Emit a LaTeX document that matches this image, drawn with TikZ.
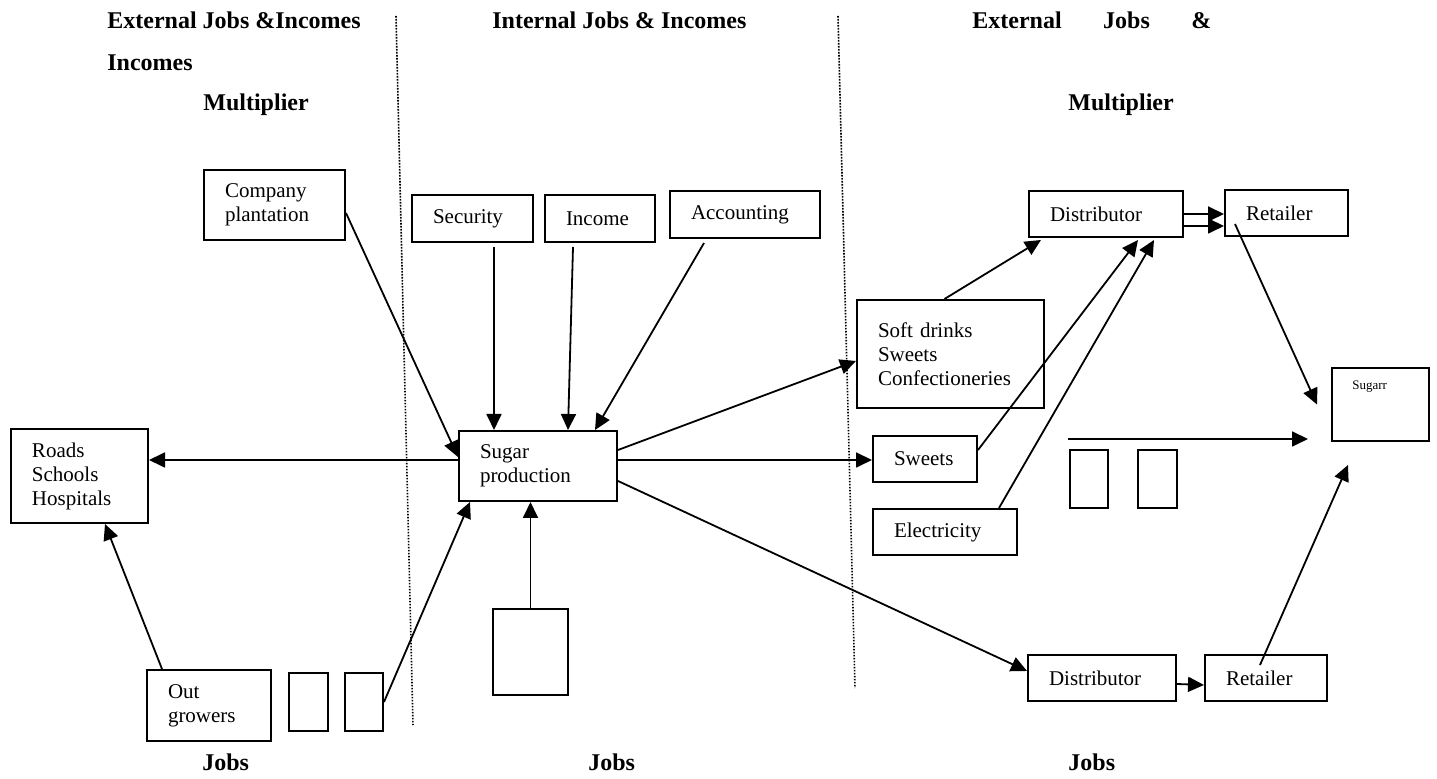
\documentclass[tikz,border=0pt]{standalone}
\usepackage{fontspec}
\setmainfont{Liberation Serif}
\usetikzlibrary{arrows.meta}

\tikzset{
  box/.style 2 args={draw, line width=1pt, anchor=north west, align=left,
    inner xsep=10.5pt, inner ysep=0pt, text width=#1, minimum height=#2,
    font=\fontsize{10.5}{12}\selectfont},
  blank/.style 2 args={draw, line width=1pt, anchor=north west, inner sep=0pt,
    minimum width=#1, minimum height=#2},
  hdr/.style={anchor=base west, inner sep=0pt,
    font=\bfseries\fontsize{12}{14}\selectfont},
  flow/.style={-{Triangle[length=8pt,width=7.5pt]}, line width=0.9pt},
  sep/.style={line width=0.8pt, dash pattern=on 0.8pt off 0.7pt}
}

\begin{document}
\begin{tikzpicture}[x=0.5pt, y=-0.5pt]

  \useasboundingbox (0,0) rectangle (1437,779);

  %% column separators
  \draw[sep] (396,16) -- (413,725);
  \draw[sep] (838,16) -- (855,688);

  %% headings
  \node[hdr] (hl1) at (107,29) {External Jobs \&Incomes};
  \node[hdr] (hl2) at (107,71) {Incomes};
  \node[hdr] (hl3) at (203,111) {Multiplier};
  \node[hdr] (hm1) at (492,29) {Internal Jobs \& Incomes};
  \node[hdr] (hr1) at (972,29) {\makebox[119.5pt][l]{External\hfill Jobs\hfill\&}};
  \node[hdr] (hr3) at (1068,111) {Multiplier};
  \node[hdr] (jl) at (202,771) {Jobs};
  \node[hdr] (jm) at (588,771) {Jobs};
  \node[hdr] (jr) at (1068,771) {Jobs};

  %% left column
  \node[box={49.5pt}{35pt}] (plant) at (203,169) {Company\\plantation};
  \node[box={47.5pt}{47pt}] (roads) at (10,428) {Roads\\Schools\\Hospitals};
  \node[box={41pt}{35.5pt}] (grow) at (146,669) {Out\\growers};
  \node[blank={19.5pt}{29pt}] (gs1) at (288,672) {};
  \node[blank={19pt}{29pt}] (gs2) at (344,672) {};

  %% middle column
  \node[box={39.5pt}{23.5pt}] (secur) at (411,194) {Security};
  \node[box={34pt}{23.5pt}] (income) at (544,194) {Income};
  \node[box={54pt}{23.5pt}] (account) at (669,190) {Accounting};
  \node[box={58pt}{35pt}] (sugar) at (458,430) {Sugar\\production};
  \node[blank={37.5pt}{43pt}] (below) at (492,608) {};

  %% right column
  \node[box={72.5pt}{54pt}] (soft) at (856,299) {Soft drinks\\Sweets\\Confectioneries};
  \node[box={31pt}{23pt}] (sweets) at (872,435) {Sweets};
  \node[box={51pt}{23pt}] (elec) at (872,508) {Electricity};
  \node[blank={19pt}{29pt}] (rs1) at (1069,449) {};
  \node[blank={19.5pt}{29pt}] (rs2) at (1137,449) {};
  \node[box={56pt}{23pt}] (dist1) at (1028,190) {Distributor};
  \node[box={40.5pt}{23pt}] (ret1) at (1224,189) {Retailer};
  \node[box={53pt}{23pt}] (dist2) at (1027,654) {Distributor};
  \node[box={40pt}{23pt}] (ret2) at (1204,654) {Retailer};
  \node[blank={48.5pt}{36.5pt}] (sugarr) at (1331,367) {};
  \node[anchor=base west, inner sep=0pt, font=\fontsize{6.5}{8}\selectfont]
  (sugarrtxt) at ([xshift=10.5pt,yshift=-11.5pt]sugarr.north west) {Sugarr};

  \coordinate (flowA) at (1068,439);
  \coordinate (flowB) at (1308,439);

  %% into sugar production
  \draw[flow] ([yshift=-4pt]plant.east) -- ([yshift=4.5pt]sugar.west);
  \draw[flow] ([xshift=10.75pt,yshift=-2pt]secur.south) -- ([xshift=-22pt]sugar.north);
  \draw[flow] ([xshift=-13.5pt,yshift=-2pt]income.south) -- ([xshift=15pt]sugar.north);
  \draw[flow] ([xshift=-20.5pt,yshift=-2pt]account.south) -- ([xshift=28.5pt]sugar.north);
  \draw[flow] (below.north) -- (below.north |- sugar.south);
  \draw[flow] (gs2.east) -- ([xshift=6pt]sugar.south west);

  %% out of sugar production
  \draw[flow] ([yshift=3pt]sugar.west) -- ([yshift=8pt]roads.east);
  \draw[flow] ([xshift=8pt]grow.north west) -- ([xshift=12.75pt]roads.south);
  \draw[flow] ([yshift=8pt]sugar.east) -- ([yshift=-3.5pt]soft.west);
  \draw[flow] ([yshift=3pt]sugar.east) -- ([yshift=-0.5pt]sweets.west);
  \draw[flow] ([yshift=-7.5pt]sugar.east) -- ([yshift=3.5pt]dist2.west);

  %% distribution chain
  \draw[flow] ([xshift=-3pt]soft.north) -- ([xshift=-32.5pt,yshift=-1pt]dist1.south);
  \draw[flow] ([yshift=4.5pt]sweets.east) -- ([xshift=16pt,yshift=-1pt]dist1.south);
  \draw[flow] ([xshift=27pt]elec.north) -- ([xshift=24pt,yshift=-1pt]dist1.south);
  \draw[flow] (dist1.east) -- ([yshift=-0.5pt]ret1.west);
  \draw[flow] ([yshift=-6pt]dist1.east) -- ([yshift=-6.5pt]ret1.west);
  \draw[flow] ([yshift=-3pt]dist2.east) -- ([yshift=-3.5pt]ret2.west);
  \draw[flow] ([xshift=5.5pt,yshift=6.5pt]ret1.south west) -- ([xshift=-7pt]sugarr.west);
  \draw[flow] ([xshift=28pt,yshift=-5.5pt]ret2.north west) -- ([xshift=8.5pt,yshift=-11.5pt]sugarr.south west);
  \draw[flow] (flowA) -- (flowB);

\end{tikzpicture}
\end{document}
